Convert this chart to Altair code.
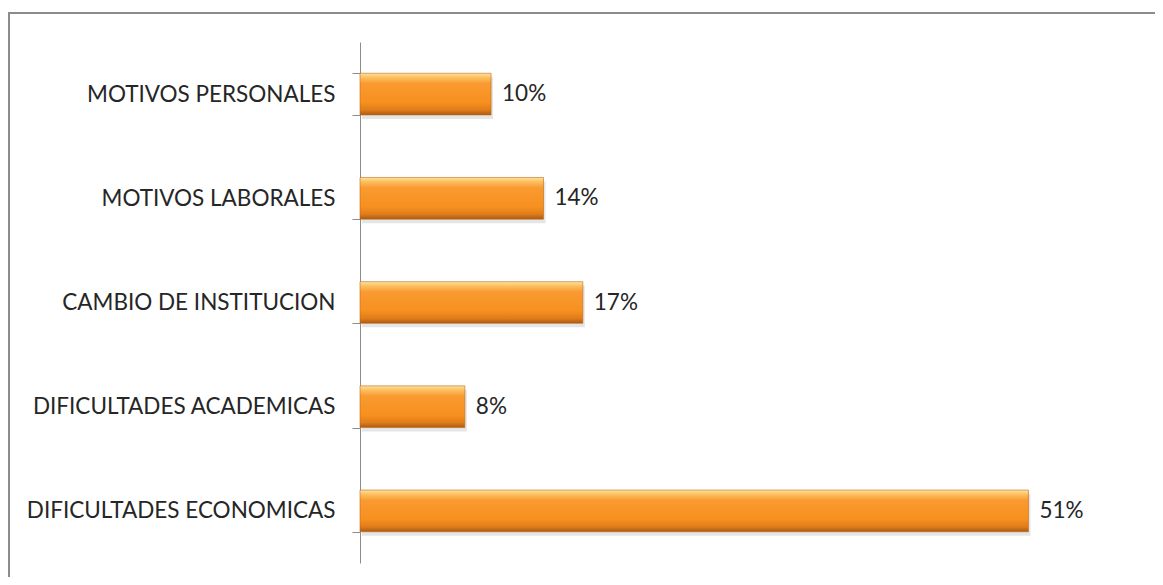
import altair as alt
import pandas as pd

categories = ["MOTIVOS PERSONALES", "MOTIVOS LABORALES", "CAMBIO DE INSTITUCION",
              "DIFICULTADES ACADEMICAS", "DIFICULTADES ECONOMICAS"]
values = [10, 14, 17, 8, 51]
value_labels = ["10%", "14%", "17%", "8%", "51%"]

df = pd.DataFrame({"cat": categories, "val": values, "lab": value_labels})
frame_df = pd.DataFrame({"a": [0]})

W, H = 734, 521
FONT = "Lato"
TXT = "#262626"

y = alt.Y("cat:N", sort=categories,
          scale=alt.Scale(paddingInner=0.6, paddingOuter=0.3),
          axis=alt.Axis(title=None, tickBand="extent", domainColor="#8c8c8c",
                        tickColor="#8c8c8c", tickSize=8, labelFontSize=22.5,
                        labelFont=FONT, labelColor=TXT, labelPadding=17,
                        labelLimit=400, domainWidth=1, tickWidth=1))
x = alt.X("val:Q", scale=alt.Scale(domain=[0, 56]), axis=None)

frame = alt.Chart(frame_df).mark_rect(fill=None, stroke="#8c8c8c", strokeWidth=2).encode(
    x=alt.value(-351), x2=alt.value(W + 200), y=alt.value(-29), y2=alt.value(H + 200)
)

shadow = alt.Chart(df).mark_bar(color="#000000", opacity=0.10, yOffset=4, xOffset=2).encode(
    x=x, y=y
)

grad = alt.Gradient(
    gradient="linear", x1=0, x2=0, y1=0, y2=1,
    stops=[
        alt.GradientStop(offset=0, color="#fde3a0"),
        alt.GradientStop(offset=0.1, color="#fcc060"),
        alt.GradientStop(offset=0.25, color="#f99a30"),
        alt.GradientStop(offset=0.7, color="#f7901f"),
        alt.GradientStop(offset=0.88, color="#e07d1a"),
        alt.GradientStop(offset=1, color="#a85a14"),
    ],
)

bars = alt.Chart(df).mark_bar(color=grad, stroke="#c06a1a", strokeWidth=0.6).encode(
    x=x, y=y
)

text = alt.Chart(df).mark_text(align="left", dx=11, fontSize=22.5, font=FONT, color=TXT).encode(
    x=x, y=y, text="lab:N"
)

chart = alt.layer(frame, shadow, bars, text).properties(
    width=W, height=H,
    padding={"left": 352, "top": 34, "right": 61, "bottom": 14},
    autosize=alt.AutoSizeParams(type="none"),
).configure_view(stroke=None)

chart.save("out.html", embed_options={"renderer": "svg", "actions": False})
